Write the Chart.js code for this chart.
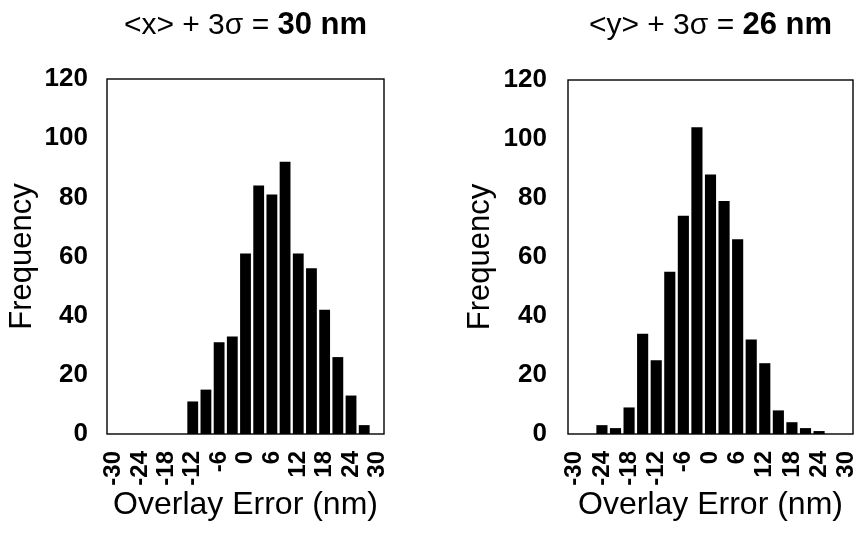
<!DOCTYPE html>
<html>
<head>
<meta charset="utf-8">
<script src="https://cdn.jsdelivr.net/npm/chart.js@4.4.1/dist/chart.umd.min.js"></script>
<style>
  html, body { margin: 0; padding: 0; background: #fff; }
  #wrap { position: relative; width: 858px; height: 533px; }
  canvas { position: absolute; top: 0; }
  #histX { left: 0; }
  #histY { left: 430px; }
</style>
</head>
<body>
<div id="wrap">
  <canvas id="histX" width="430" height="533"></canvas>
  <canvas id="histY" width="428" height="533"></canvas>
</div>
<script>
// overlay error bins, 3 nm wide (bin centres in nm)
const binCenters = [-30, -27, -24, -21, -18, -15, -12, -9, -6, -3, 0, 3, 6, 9, 12, 15, 18, 21, 24, 27, 30];
const tickLabels = ['-30', '-24', '-18', '-12', '-6', '0', '6', '12', '18', '24', '30'];

// counts per bin
const countsX = [0, 0, 0, 0, 0, 0, 11, 15, 31, 33, 61, 84, 81, 92, 61, 56, 42, 26, 13, 3, 0];
const countsY = [0, 0, 3, 2, 9, 34, 25, 55, 74, 104, 88, 79, 66, 32, 24, 8, 4, 2, 1, 0, 0];

const freqMin = 0, freqMax = 120, freqStep = 20;

// <mean> + 3 sigma headings: plain part, bold part
const headX = ['<x> + 3σ = ', '30 nm'];
const headY = ['<y> + 3σ = ', '26 nm'];

const FONT = '"Liberation Sans", Arial, Helvetica, sans-serif';

// box round the plot area
const frameBox = {
  id: 'frameBox',
  afterDatasetsDraw(chart) {
    const { ctx, chartArea: a } = chart;
    ctx.save();
    ctx.strokeStyle = '#000';
    ctx.lineWidth = 1.4;
    ctx.strokeRect(a.left, a.top, a.right - a.left, a.bottom - a.top);
    ctx.restore();
  }
};

// heading with a bold value part, centred over the plot
const mixedTitle = {
  id: 'mixedTitle',
  afterDraw(chart, args, opts) {
    const { ctx, chartArea } = chart;
    const cx = (chartArea.left + chartArea.right) / 2;
    const plain = `30px ${FONT}`;
    const bold = `bold 31px ${FONT}`;
    ctx.save();
    ctx.font = plain;
    const w1 = ctx.measureText(opts.text[0]).width;
    ctx.font = bold;
    const w2 = ctx.measureText(opts.text[1]).width;
    const x = cx - (w1 + w2) / 2;
    ctx.fillStyle = '#000';
    ctx.textBaseline = 'alphabetic';
    ctx.textAlign = 'left';
    ctx.font = plain;
    ctx.fillText(opts.text[0], x, 34);
    ctx.font = bold;
    ctx.fillText(opts.text[1], x + w1, 34);
    ctx.restore();
  }
};

function makeHist(id, counts, head, lay) {
  return new Chart(document.getElementById(id), {
    type: 'bar',
    data: {
      labels: binCenters.map(String),
      datasets: [{
        data: counts,
        backgroundColor: '#000',
        borderWidth: 0,
        barPercentage: 0.82,
        categoryPercentage: 1.0
      }]
    },
    options: {
      responsive: false,
      animation: false,
      devicePixelRatio: 1,
      layout: {
        autoPadding: false,
        padding: { left: 0, top: lay.top, right: lay.right, bottom: 0 }
      },
      plugins: {
        legend: { display: false },
        tooltip: { enabled: false },
        mixedTitle: { text: head }
      },
      scales: {
        x: {
          grid: { display: false },
          border: { display: false },
          // fixed band height, and no extra room for the end labels
          afterFit: s => {
            s.height = 99;
            s.paddingLeft = 0;
            s.paddingRight = 0;
          },
          ticks: {
            autoSkip: false,
            minRotation: 90,
            maxRotation: 90,
            padding: 9,
            color: '#000',
            font: { family: FONT, size: 24, weight: 'bold' },
            callback(value) {
              const lbl = this.getLabelForValue(value);
              return tickLabels.includes(lbl) ? lbl : '';
            }
          },
          title: {
            display: true,
            text: 'Overlay Error (nm)',
            color: '#000',
            font: { family: FONT, size: 32 },
            padding: { top: 0, bottom: 9 }
          }
        },
        y: {
          min: freqMin,
          max: freqMax,
          grid: { display: false },
          border: { display: false },
          afterFit: s => {
            s.width = lay.yWidth;
            s.paddingTop = 0;
            s.paddingBottom = 0;
          },
          ticks: {
            stepSize: freqStep,
            padding: lay.tickPad,
            color: '#000',
            font: { family: FONT, size: 26, weight: 'bold' }
          },
          title: {
            display: true,
            text: 'Frequency',
            color: '#000',
            font: { family: FONT, size: 31 },
            padding: { top: lay.titlePad, bottom: 0 }
          }
        }
      }
    },
    plugins: [frameBox, mixedTitle]
  });
}

makeHist('histX', countsX, headX, { top: 79, right: 46, yWidth: 107, tickPad: 11, titlePad: 4 });
makeHist('histY', countsY, headY, { top: 80, right: 5, yWidth: 138, tickPad: 13, titlePad: 32 });
</script>
</body>
</html>
